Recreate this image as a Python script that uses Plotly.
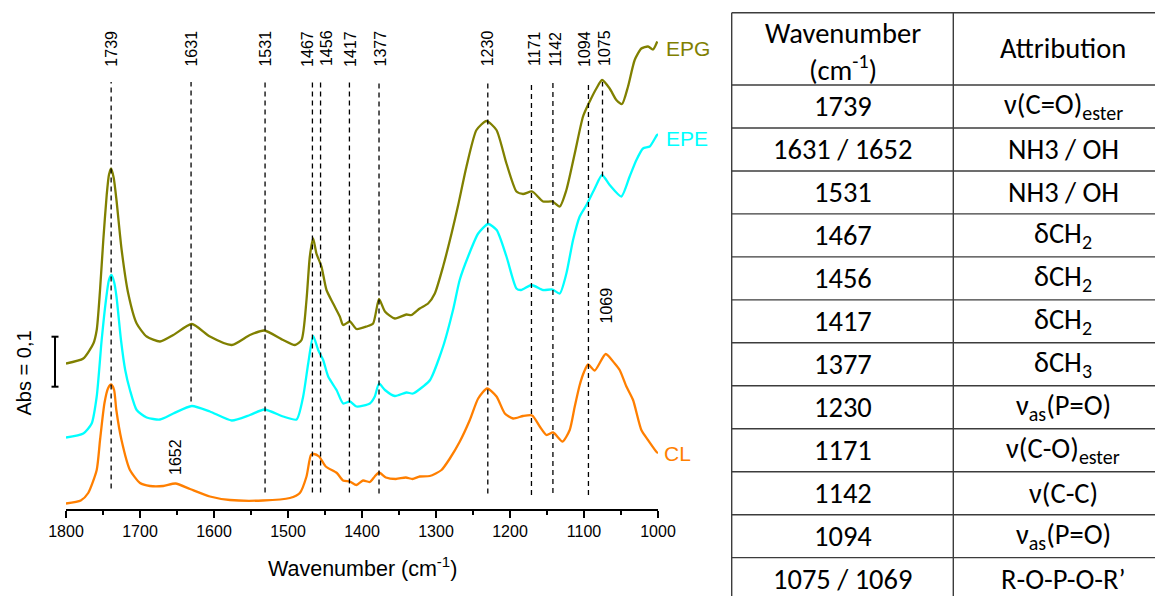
import plotly.graph_objects as go

# ---------------- data ----------------
epg_wn = [1800, 1776.6, 1763, 1758.5, 1754, 1749.6, 1745, 1742, 1739, 1735.5, 1731.8, 1724.8, 1715.9,
          1704.5, 1691, 1673, 1655, 1630, 1605.5, 1576, 1551.5, 1532, 1506.5, 1490.7, 1481.7, 1475,
          1470.5, 1466, 1461.6, 1454.8, 1448, 1439, 1430, 1425.5, 1416.4, 1407.4, 1393.9, 1385, 1377,
          1369, 1355.6, 1340, 1333, 1322, 1310.7, 1301.6, 1290.4, 1279, 1270, 1258.8, 1245.3, 1231.8,
          1218.3, 1204.8, 1191.3, 1182.4, 1170, 1155.3, 1142.7, 1132.8, 1123.8, 1112.5, 1101.3, 1092.3,
          1083.3, 1075.6, 1065.3, 1056.3, 1048.6, 1040.5, 1031.5, 1022.5, 1013.5, 1006.7, 1001]
epg_abs = [0.291, 0.301, 0.331, 0.358, 0.438, 0.538, 0.628, 0.668, 0.681, 0.662, 0.618, 0.518, 0.431,
           0.371, 0.345, 0.335, 0.348, 0.370, 0.345, 0.328, 0.348, 0.357, 0.338, 0.328, 0.338, 0.418,
           0.505, 0.541, 0.511, 0.485, 0.438, 0.411, 0.385, 0.368, 0.375, 0.360, 0.365, 0.371, 0.420,
           0.395, 0.381, 0.389, 0.388, 0.401, 0.411, 0.431, 0.485, 0.551, 0.608, 0.685, 0.758, 0.776,
           0.758, 0.691, 0.635, 0.630, 0.635, 0.615, 0.615, 0.605, 0.638, 0.711, 0.785, 0.815,
           0.841, 0.858, 0.841, 0.818, 0.810, 0.845, 0.898, 0.921, 0.925, 0.919, 0.935]

epe_wn = [1800, 1776.6, 1765.3, 1758.5, 1751.8, 1746, 1742, 1738.6, 1735, 1731.8, 1725.7, 1720, 1713.6,
          1704.5, 1691, 1673, 1655, 1630, 1605.5, 1576, 1551.5, 1532, 1506.5, 1488.4, 1479.5, 1472.7,
          1466, 1459.2, 1452.5, 1445.7, 1434.4, 1425.5, 1416.4, 1407.4, 1389.4, 1382.7, 1377, 1369,
          1355.6, 1340, 1331, 1317.4, 1308, 1290.4, 1277, 1268, 1256.6, 1243, 1229.6, 1218, 1204.8,
          1191.3, 1185, 1171, 1155.3, 1142.7, 1132.8, 1123.8, 1114.8, 1105.8, 1096.7, 1085.5, 1075.6,
          1065.3, 1049.5, 1038.3, 1029.2, 1020.3, 1011.2, 1001.4, 1000]
epe_abs = [0.143, 0.151, 0.171, 0.225, 0.338, 0.418, 0.458, 0.468, 0.454, 0.425, 0.338, 0.278, 0.238,
           0.198, 0.183, 0.179, 0.191, 0.206, 0.195, 0.177, 0.188, 0.199, 0.185, 0.179, 0.225, 0.291,
           0.346, 0.318, 0.298, 0.265, 0.238, 0.211, 0.215, 0.205, 0.211, 0.225, 0.251, 0.238,
           0.226, 0.233, 0.231, 0.245, 0.258, 0.325, 0.398, 0.458, 0.505, 0.551, 0.570, 0.558, 0.505,
           0.441, 0.438, 0.448, 0.438, 0.439, 0.431, 0.471, 0.538, 0.585, 0.608, 0.641, 0.668,
           0.648, 0.625, 0.665, 0.698, 0.721, 0.725, 0.748, 0.750]

cl_wn = [1800, 1780, 1770, 1758.5, 1754, 1748, 1743, 1739, 1735, 1732, 1725, 1713.6, 1700, 1686.5,
         1668.6, 1652, 1632.5, 1605.5, 1578.5, 1534, 1497.5, 1484, 1475, 1469, 1465, 1458, 1449, 1434,
         1425.6, 1416.5, 1407.5, 1398.6, 1389.6, 1382.8, 1377, 1367.8, 1354.3, 1340.8, 1331.8, 1322,
         1308.4, 1292.6, 1281.3, 1267.8, 1254.3, 1243, 1230.9, 1218.2, 1207, 1195.8, 1182.3, 1170,
         1159.8, 1150.7, 1141.7, 1129, 1119.3, 1112.5, 1105.8, 1100, 1094.5, 1085.5, 1070.7, 1058.5,
         1051.8, 1042.7, 1033.7, 1022.5, 1013.5, 1001.3, 1000]
cl_abs = [0.011, 0.017, 0.032, 0.078, 0.138, 0.212, 0.242, 0.249, 0.238, 0.198, 0.138, 0.078, 0.052, 0.046,
          0.046, 0.051, 0.040, 0.025, 0.018, 0.017, 0.022, 0.032, 0.065, 0.108, 0.110, 0.105, 0.085, 0.072,
          0.057, 0.055, 0.048, 0.057, 0.054, 0.065, 0.073, 0.063, 0.060, 0.063, 0.060, 0.065,
          0.066, 0.078, 0.101, 0.135, 0.178, 0.221, 0.241, 0.225, 0.191, 0.181, 0.186, 0.187,
          0.165, 0.148, 0.153, 0.135, 0.158, 0.205, 0.248, 0.274, 0.289, 0.277, 0.310, 0.291,
          0.278, 0.245, 0.218, 0.158, 0.138, 0.113, 0.112]

series_names = ["EPG", "EPE", "CL"]
series_colors = ["#808000", "#00FFFF", "#FF7F00"]

peak_wn = [1739, 1631, 1531, 1467, 1456, 1417, 1377, 1230, 1171, 1142, 1094, 1075]
peak_line_bottom = [0.041, 0.215, 0.033, 0.033, 0.033, 0.033, 0.031, 0.031, 0.028, 0.032, 0.028, 0.665]
peak_line_top = 0.854
peak_label_shift = [0, 0, 0, -5, 6, 1, 1, 0, 3, 3, -4, 2]

x_ticks = [1800, 1700, 1600, 1500, 1400, 1300, 1200, 1100, 1000]

table_wn = ["1739", "1631 / 1652", "1531", "1467", "1456", "1417", "1377", "1230", "1171", "1142",
            "1094", "1075 / 1069"]
table_attr = ["ν(C=O)<sub>ester</sub>", "NH3 / OH", "NH3 / OH", "δCH<sub>2</sub>", "δCH<sub>2</sub>",
              "δCH<sub>2</sub>", "δCH<sub>3</sub>", "ν<sub>as</sub>(P=O)", "ν(C-O)<sub>ester</sub>",
              "ν(C-C)", "ν<sub>as</sub>(P=O)", "R-O-P-O-R’"]

# ---------------- layout geometry (screen pixels; page body has an 8px margin) ----------------
OFF = 8
SW, SH = 1163, 596
W, H = SW - OFF, SH - OFF
PLOT_L, PLOT_R, PLOT_T, PLOT_B = 66, 658, 10, 509
ML = PLOT_L - OFF
MT = PLOT_T - OFF
MB = SH - PLOT_B
MR = SW - PLOT_R
PW, PH = W - ML - MR, H - MT - MB


def px(x):
    return (x - OFF - ML) / PW


def py(y):
    return (H - MB - (y - OFF)) / PH


AX_FONT = "Arial, Liberation Sans, sans-serif"
TB_FONT = "Carlito, Calibri, Lato, sans-serif"


def ann(x, y, text, font, angle=0, xanchor="center", yanchor="middle", xref="paper", yref="paper", xshift=0):
    return dict(xref=xref, yref=yref, x=x, y=y, text=text, showarrow=False, textangle=angle,
                xanchor=xanchor, yanchor=yanchor, font=font, borderpad=0, xshift=xshift)


fig = go.Figure()
all_wn = [epg_wn, epe_wn, cl_wn]
all_abs = [epg_abs, epe_abs, cl_abs]
for name, wn, ab, col in zip(series_names, all_wn, all_abs, series_colors):
    fig.add_trace(go.Scatter(x=wn, y=ab, mode="lines", name=name,
                             line=dict(color=col, width=2.3, shape="spline", smoothing=0.6),
                             showlegend=False, hoverinfo="skip"))

shapes = []
annotations = []
lab_font = dict(family=AX_FONT, size=16, color="black")

# dashed peak lines + labels
for wn, bot, sh in zip(peak_wn, peak_line_bottom, peak_label_shift):
    shapes.append(dict(type="line", xref="x", yref="y", x0=wn, x1=wn, y0=bot, y1=peak_line_top,
                       line=dict(color="black", width=1.3, dash="5px,4px")))
    annotations.append(ann(wn, py(48.5), str(wn), lab_font, angle=-90, xref="x", xshift=sh))

annotations.append(ann(1652, py(457.5), "1652", lab_font, angle=-90, xref="x"))
annotations.append(ann(1069, py(305.5), "1069", lab_font, angle=-90, xref="x"))

# series labels
label_pos = [(665, 48.7), (665, 138), (663, 453.3)]
for name, col, (lx, ly) in zip(series_names, series_colors, label_pos):
    annotations.append(ann(px(lx), py(ly), name, dict(family=AX_FONT, size=21, color=col), xanchor="left"))

# scale bar
shapes.append(dict(type="line", xref="paper", yref="paper", x0=px(55), x1=px(55), y0=py(336.7), y1=py(386.7),
                   line=dict(color="black", width=2)))
for yy in (336.7, 386.7):
    shapes.append(dict(type="line", xref="paper", yref="paper", x0=px(51.5), x1=px(58.5), y0=py(yy), y1=py(yy),
                       line=dict(color="black", width=2)))
annotations.append(ann(px(23), py(373.5), "Abs = 0,1", dict(family=AX_FONT, size=20, color="black"), angle=-90))

# axis title
annotations.append(ann(px(362), py(567), "Wavenumber (cm<sup>-1</sup>)", dict(family=AX_FONT, size=21.5, color="black")))

# ---------------- table ----------------
T_LEFT, T_MID, T_RIGHT = 731.7, 953.3, 1175
T_TOP, T_HEAD = 12.7, 85
ROW_H = 42.97
LC = "#3c3c3c"
for xx in (T_LEFT, T_MID):
    shapes.append(dict(type="line", xref="paper", yref="paper", x0=px(xx), x1=px(xx), y0=py(T_TOP), y1=py(610),
                       line=dict(color=LC, width=1.4)))
for i in range(len(table_wn) + 1):
    yy = T_TOP if i == 0 else T_HEAD + ROW_H * (i - 1)
    shapes.append(dict(type="line", xref="paper", yref="paper", x0=px(T_LEFT), x1=px(T_RIGHT), y0=py(yy), y1=py(yy),
                       line=dict(color=LC, width=1.4)))

c1 = (T_LEFT + T_MID) / 2
c2 = 1063
tfont = dict(family=TB_FONT, size=28.5, color="black")
annotations.append(ann(px(c1), py(51.5), "Wavenumber<br>(cm<sup>-1</sup>)", tfont))
annotations.append(ann(px(c2), py(49), "Attribution", tfont))
for i, (a, b) in enumerate(zip(table_wn, table_attr)):
    yc = T_HEAD + ROW_H * (i + 0.5)
    annotations.append(ann(px(c1), py(yc), a, tfont))
    annotations.append(ann(px(c2), py(yc), b, tfont))

fig.update_layout(
    width=W, height=H,
    margin=dict(l=ML, r=MR, t=MT, b=MB, pad=0),
    paper_bgcolor="white", plot_bgcolor="white",
    xaxis=dict(range=[1800, 1000], tickvals=x_ticks, ticks="outside", ticklen=7, tickwidth=1.5,
               tickcolor="black", showline=True, linecolor="black", linewidth=1.5, showgrid=False,
               zeroline=False, tickfont=dict(family=AX_FONT, size=16, color="black"),
               minor=dict(dtick=50, tick0=1000, ticks="outside", ticklen=4, tickwidth=1.5, tickcolor="black",
                          showgrid=False)),
    yaxis=dict(range=[0, PH / 500], visible=False),
    shapes=shapes, annotations=annotations,
)

fig.write_html("out.html")
